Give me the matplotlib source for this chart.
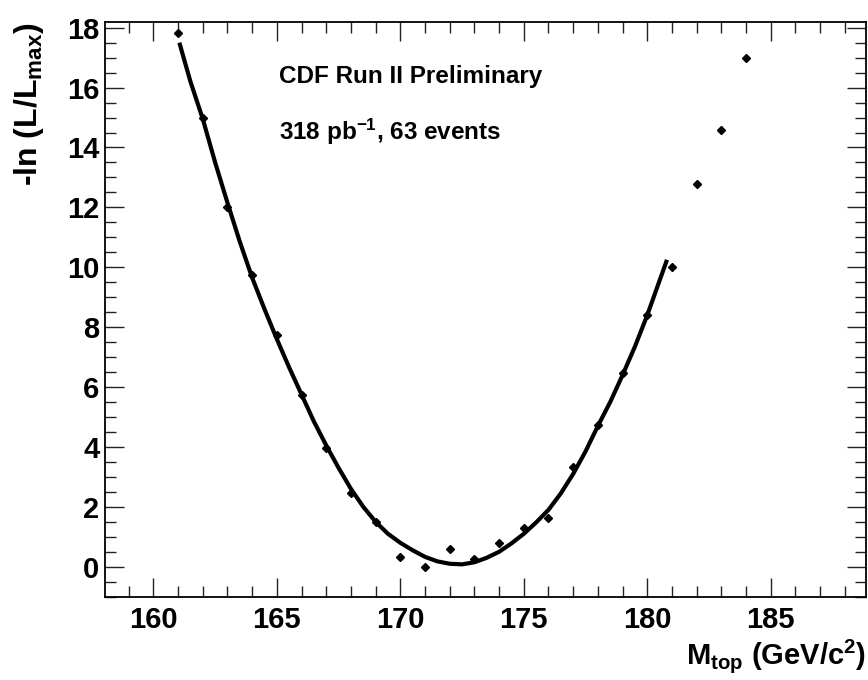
import numpy as np
import matplotlib.pyplot as plt
from matplotlib.ticker import MultipleLocator

# Likelihood scan points (M_top in GeV/c^2, -ln(L/Lmax))
mass = [161, 162, 163, 164, 165, 166, 167, 168, 169, 170, 171, 172,
        173, 174, 175, 176, 177, 178, 179, 180, 181, 182, 183, 184]
nll = [17.82, 15.0, 12.0, 9.74, 7.74, 5.75, 3.95, 2.45, 1.5, 0.31, 0.0, 0.58,
       0.25, 0.78, 1.28, 1.62, 3.32, 4.73, 6.46, 8.41, 10.0, 12.77, 14.58, 17.0]

# Fitted curve
fit_mass = [161.05, 161.5, 162, 162.5, 163, 163.5, 164, 164.5, 165, 165.5, 166,
            166.5, 167, 167.5, 168, 168.5, 169, 169.5, 170, 170.5, 171, 171.5,
            172, 172.5, 173, 173.5, 174, 174.5, 175, 175.5, 176, 176.5, 177,
            177.5, 178, 178.5, 179, 179.5, 180, 180.8]
fit_nll = [17.5, 16.2, 14.95, 13.5, 12.15, 10.85, 9.65, 8.6, 7.6, 6.65, 5.75,
           4.85, 4.05, 3.3, 2.6, 2.0, 1.5, 1.1, 0.8, 0.55, 0.33, 0.18,
           0.1, 0.08, 0.15, 0.3, 0.5, 0.78, 1.1, 1.48, 1.9, 2.45, 3.1,
           3.85, 4.7, 5.5, 6.4, 7.35, 8.4, 10.25]

title_lines = ["CDF Run II Preliminary", r"318 pb$^{\mathbf{-1}}$, 63 events"]

plt.rcParams['font.family'] = ['Liberation Sans', 'DejaVu Sans']
plt.rcParams['font.weight'] = 'bold'
plt.rcParams['axes.labelweight'] = 'bold'
plt.rcParams['mathtext.fontset'] = 'custom'
plt.rcParams['mathtext.rm'] = 'Liberation Sans:weight=bold'
plt.rcParams['mathtext.it'] = 'Liberation Sans:weight=bold'
plt.rcParams['mathtext.bf'] = 'Liberation Sans:weight=bold'
plt.rcParams['mathtext.default'] = 'bf'

fig = plt.figure(figsize=(8.68, 6.8), dpi=100)
ax = fig.add_axes([0.121, 0.1225, 0.8767, 0.8447])

ax.plot(fit_mass, fit_nll, color='black', lw=3.0, solid_capstyle='butt',
        solid_joinstyle='round')
ax.plot(mass, nll, linestyle='none', marker='D', markersize=4, color='black')

ax.set_xlim(158.04, 188.86)
ax.set_ylim(-1.0, 18.18)

ax.xaxis.set_major_locator(MultipleLocator(5))
ax.xaxis.set_minor_locator(MultipleLocator(1))
ax.yaxis.set_major_locator(MultipleLocator(2))
ax.yaxis.set_minor_locator(MultipleLocator(0.5))
ax.tick_params(which='both', direction='in', top=True, right=True,
               width=1.0, color='#222222')
ax.tick_params(which='major', length=14)
ax.tick_params(which='minor', length=8)
ax.tick_params(axis='x', which='major', labelsize=21, pad=7)
ax.tick_params(axis='y', which='major', labelsize=21, pad=4)
for s in ax.spines.values():
    s.set_linewidth(1.3)

ax.set_xlabel(r'M$_{\mathbf{top}}$ (GeV/c$^{\mathbf{2}}$)', fontsize=21, loc='right')
ax.xaxis.set_label_coords(1.0, -0.07)
ax.set_ylabel(r'-ln (L/L$_{\mathbf{max}}$)', fontsize=23, loc='top')
ax.yaxis.set_label_coords(-0.078, 1.0)

ax.text(0.228, 0.905, title_lines[0], transform=ax.transAxes,
        fontsize=17.5, va='center', ha='left')
ax.text(0.228, 0.81, title_lines[1], transform=ax.transAxes,
        fontsize=17.5, va='center', ha='left')

fig.savefig('out.png', dpi=100)
